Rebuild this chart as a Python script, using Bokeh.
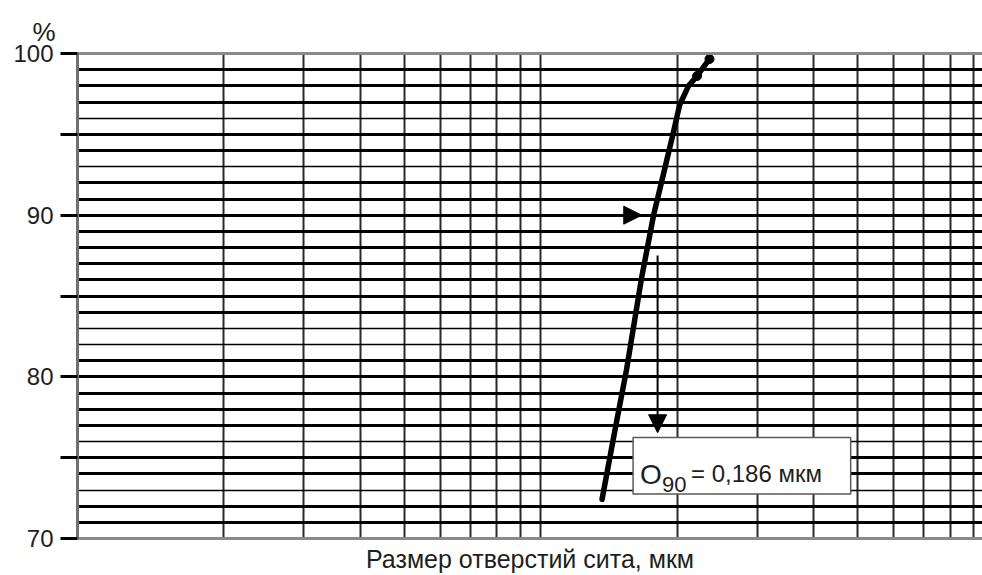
from bokeh.plotting import figure
from bokeh.models import (Range1d, FixedTicker, Grid, LogAxis, Arrow, NormalHead,
                          BoxAnnotation, Label)
from bokeh.embed import file_html
from bokeh.resources import INLINE

# ---------------- data ----------------
# cumulative passing curve: sieve opening (µm) vs percent
curve_size_um = [0.1365, 0.1465, 0.1545, 0.1670, 0.1775, 0.1862, 0.1953,
                 0.2025, 0.2118, 0.2212, 0.2356]
curve_pass_pct = [72.42, 77.04, 80.41, 86.18, 90.05, 92.47, 94.90,
                  96.83, 98.00, 98.61, 99.66]
# measured points at the top end of the curve
marker_size_um = [0.2212, 0.2356]
marker_pass_pct = [98.61, 99.66]

# axis ticks
y_major_ticks = [70, 80, 90, 100]
y_minor_ticks = [75, 85, 95]

# horizontal grid (percent): heavy and light rulings
grid_heavy_pct = [71, 72, 74, 75, 77, 78, 79, 80, 81, 84, 85, 86, 87, 88, 89,
                  90, 91, 92, 94, 95, 97, 98, 99]
grid_light_pct = [73, 76, 82, 83, 93, 96]
# vertical grid (sieve opening, µm) on a log scale
grid_size_um = [0.02, 0.03, 0.04, 0.05, 0.06, 0.07, 0.08, 0.09,
                0.1, 0.2, 0.3, 0.4, 0.5, 0.6, 0.7, 0.8, 0.9]

x_limits = [0.009505, 0.9428]
y_limits = [70, 100]

# O90 read-off arrows
o90_level_pct = 90
h_arrow_x = [0.1032, 0.167]
v_arrow_x = 0.181
v_arrow_y = [87.5, 76.54]

# annotation box (data coords)
box_x = [0.1598, 0.4826]
box_y = [72.75, 76.25]

x_label_text = "Размер отверстий сита, мкм"
y_unit_text = "%"
note_symbol = "O"
note_sub = "90"
note_value = "= 0,186 мкм"

FONT = "Liberation Sans"
TXT = "#1e1e1e"

# ---------------- figure ----------------
p = figure(width=982, height=575, x_axis_type="log",
           x_range=Range1d(*x_limits), y_range=Range1d(*y_limits),
           output_backend="svg", toolbar_location=None,
           min_border_left=77, min_border_right=0,
           min_border_top=53, min_border_bottom=35,
           background_fill_color="white", border_fill_color="white",
           outline_line_color=None)

# "%" unit above the y axis (as the title, left of the frame)
p.title.text = y_unit_text
p.title.align = "left"
p.title.offset = -45
p.title.standoff = 14
p.title.text_font = FONT
p.title.text_font_size = "26px"
p.title.text_font_style = "normal"
p.title.text_color = TXT

# grids
p.ygrid.ticker = FixedTicker(ticks=grid_heavy_pct)
p.ygrid.grid_line_color = "black"
p.ygrid.grid_line_width = 3
p.add_layout(Grid(dimension=1, ticker=FixedTicker(ticks=grid_light_pct),
                  grid_line_color="black", grid_line_width=1.6))
p.xgrid.ticker = FixedTicker(ticks=grid_size_um)
p.xgrid.grid_line_color = "#2a2a2a"
p.xgrid.grid_line_width = 2

# x axis (bottom)
xa = p.xaxis[0]
xa.ticker = FixedTicker(ticks=[])
xa.major_tick_out = 0
xa.major_tick_in = 0
xa.minor_tick_out = 0
xa.minor_tick_in = 0
xa.axis_line_color = "#8a8a8a"
xa.axis_line_width = 3
xa.axis_label = x_label_text
xa.axis_label_text_font = FONT
xa.axis_label_text_font_size = "25px"
xa.axis_label_text_font_style = "normal"
xa.axis_label_text_color = TXT
xa.axis_label_standoff = 6

# top border line as an axis
top = LogAxis(ticker=FixedTicker(ticks=[]), axis_line_color="#8a8a8a",
              axis_line_width=3, major_tick_out=0, major_tick_in=0,
              minor_tick_out=0, minor_tick_in=0,
              major_label_text_font_size="0px", major_label_standoff=0)
p.add_layout(top, "above")

# y axis
ya = p.yaxis[0]
ya.ticker = FixedTicker(ticks=y_major_ticks, minor_ticks=y_minor_ticks)
ya.major_tick_out = 17
ya.major_tick_in = 0
ya.minor_tick_out = 17
ya.minor_tick_in = 0
ya.major_tick_line_width = 3
ya.minor_tick_line_width = 3
ya.major_tick_line_color = "black"
ya.minor_tick_line_color = "black"
ya.axis_line_color = "#707070"
ya.axis_line_width = 3
ya.major_label_text_font = FONT
ya.major_label_text_font_size = "24px"
ya.major_label_text_color = TXT
ya.major_label_standoff = 7

# curve
p.line(curve_size_um, curve_pass_pct, line_color="black", line_width=5.5,
       line_cap="round", line_join="round")
p.scatter(marker_size_um, marker_pass_pct, size=9, color="black")

# arrows
p.add_layout(Arrow(end=NormalHead(size=18, fill_color="black", line_color="black", line_width=1),
                   x_start=h_arrow_x[0], x_end=h_arrow_x[1],
                   y_start=o90_level_pct, y_end=o90_level_pct,
                   line_color="black", line_width=2.5))
p.add_layout(Arrow(end=NormalHead(size=18, fill_color="black", line_color="black", line_width=1),
                   x_start=v_arrow_x, x_end=v_arrow_x,
                   y_start=v_arrow_y[0], y_end=v_arrow_y[1],
                   line_color="black", line_width=2))

# annotation box
p.add_layout(BoxAnnotation(left=box_x[0], right=box_x[1], bottom=box_y[0], top=box_y[1],
                           fill_color="white", fill_alpha=1.0,
                           line_color="#5a5a5a", line_alpha=1.0, line_width=1.5))
p.add_layout(Label(x=box_x[0], y=box_y[0], x_offset=7, y_offset=20, text=note_symbol,
                   text_font=FONT, text_font_size="28px", text_color=TXT,
                   text_align="left", text_baseline="alphabetic"))
p.add_layout(Label(x=box_x[0], y=box_y[0], x_offset=29, y_offset=10, text=note_sub,
                   text_font=FONT, text_font_size="22px", text_color=TXT,
                   text_align="left", text_baseline="alphabetic"))
p.add_layout(Label(x=box_x[0], y=box_y[0], x_offset=58, y_offset=21, text=note_value,
                   text_font=FONT, text_font_size="24px", text_color=TXT,
                   text_align="left", text_baseline="alphabetic"))

open("out.html", "w").write(file_html(p, INLINE))
